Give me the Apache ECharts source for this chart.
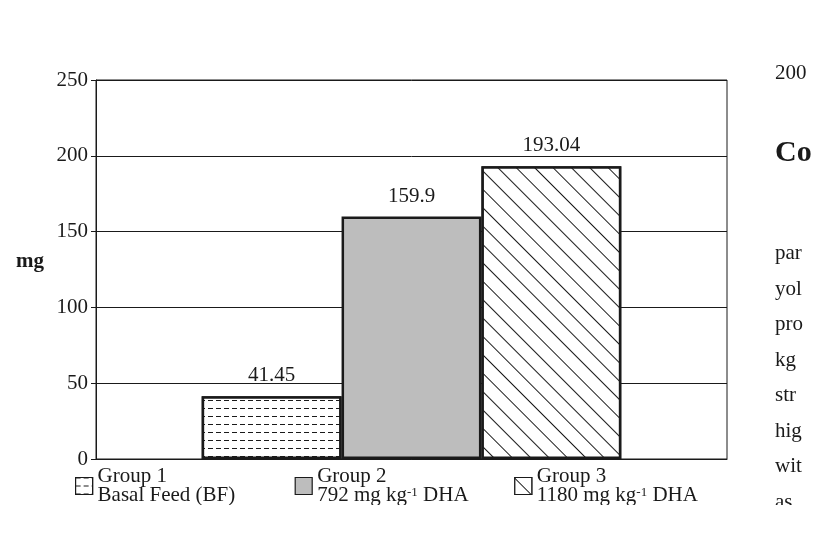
<!DOCTYPE html>
<html>
<head>
<meta charset="utf-8">
<script src="https://cdn.jsdelivr.net/npm/echarts@6/dist/echarts.min.js"></script>
<style>html,body{margin:0;background:#fff}#c{width:820px;height:545px}</style>
</head>
<body>
<div id="c"></div>
<script>
// data
const categories = ['mg'];
const groupNames = ['Group 1', 'Group 2', 'Group 3'];
const groupDesc = ['Basal Feed (BF)', '792 mg kg{s|-1} DHA', '1180 mg kg{s|-1} DHA'];
const values = [41.45, 159.9, 193.04];
const yTicks = [0, 50, 100, 150, 200, 250];
const sideText = ['tha', '200'];
const sideText2 = ['par', 'yol', 'pro', 'kg', 'str', 'hig', 'wit', 'as'];

const serif = 'Liberation Serif';
const ink = '#1a1a1a';
const decals = [
  {symbol: 'rect', symbolSize: 1, dashArrayX: [[5, 3]], dashArrayY: [1, 7], rotation: 0, color: ink, backgroundColor: '#fff'},
  null,
  {symbol: 'rect', symbolSize: 1, dashArrayX: [1, 0], dashArrayY: [1, 12], rotation: Math.PI / 4, color: ink, backgroundColor: '#fff'}
];
const fills = ['#fff', '#bdbdbd', '#fff'];

const series = groupNames.map((n, i) => ({
  name: n,
  type: 'bar',
  barGap: '0%',
  barCategoryGap: '33.5%',
  data: [values[i]],
  itemStyle: Object.assign({color: fills[i], borderColor: ink, borderWidth: 2.5},
    decals[i] ? {decal: decals[i]} : {}),
  label: {show: true, position: 'top', distance: 10, fontFamily: serif, fontSize: 21, color: ink}
}));

const chart = echarts.init(document.getElementById('c'));
const graphics = [{
  type: 'text', left: 16, top: 251,
  style: {text: 'mg', font: 'bold 21px ' + serif, fill: ink}
}];
sideText.forEach((t, i) => {
  graphics.push({type: 'text', left: 775, top: 28 + i * 35, style: {text: t, font: '21px ' + serif, fill: ink}});
});
graphics.push({type: 'text', left: 775, top: 138, style: {text: 'Co', font: 'bold 30px ' + serif, fill: ink}});
sideText2.forEach((t, i) => {
  graphics.push({type: 'text', left: 775, top: 243 + i * 35.5, style: {text: t, font: '21px ' + serif, fill: ink}});
});
graphics.push({type: 'rect', left: 0, top: 505, shape: {width: 820, height: 40}, style: {fill: '#fff'}, z: 100});
graphics.push({type: 'rect', left: 760, top: 0, shape: {width: 60, height: 46}, style: {fill: '#fff'}, z: 100});

chart.setOption({
  animation: false,
  backgroundColor: '#fff',
  grid: {left: 96, right: 93, top: 80, bottom: 86, show: true, borderColor: ink, borderWidth: 1},
  xAxis: {type: 'category', data: categories,
    axisLine: {lineStyle: {color: ink}}, axisTick: {show: false}, axisLabel: {show: false}},
  yAxis: {type: 'value', min: 0, max: 250, interval: 50,
    axisLine: {show: true, lineStyle: {color: ink}},
    axisTick: {show: true, length: 5, lineStyle: {color: ink}},
    splitLine: {lineStyle: {color: ink, width: 1}},
    axisLabel: {fontFamily: serif, fontSize: 21, color: ink, margin: 8,
      formatter: v => yTicks.includes(v) ? String(v) : ''}},
  legend: {
    left: 70, top: 461, itemWidth: 17, itemHeight: 17, itemGap: 22,
    icon: 'rect',
    itemStyle: {borderColor: ink, borderWidth: 1.2},
    textStyle: {fontFamily: serif, fontSize: 21, color: ink, lineHeight: 19, width: 175,
      rich: {s: {fontFamily: serif, fontSize: 13, verticalAlign: 'top', color: ink}}},
    formatter: name => {
      const i = groupNames.indexOf(name);
      return name + '\n' + groupDesc[i];
    }
  },
  graphic: graphics,
  series: series
});
</script>
</body>
</html>
